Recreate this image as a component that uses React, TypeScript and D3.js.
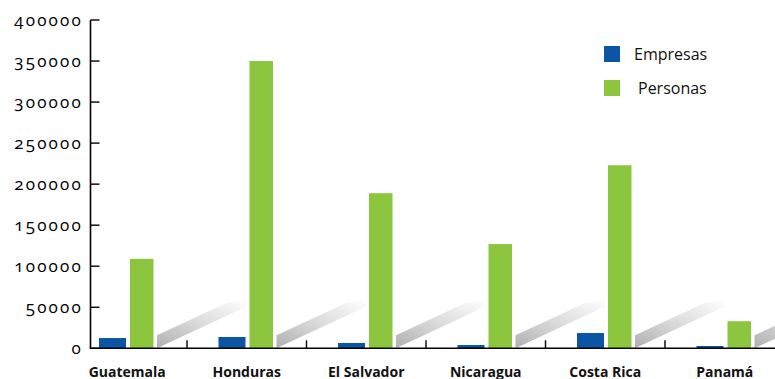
import React from "react";
import * as d3 from "d3";

const categories = ["Guatemala", "Honduras", "El Salvador", "Nicaragua", "Costa Rica", "Panamá"];
const empresas = [12500, 13800, 6500, 4000, 18600, 2800];
const personas = [109000, 350000, 189000, 127000, 223000, 33000];
const seriesNames = ["Empresas", "Personas"];
const yTicks = [0, 50000, 100000, 150000, 200000, 250000, 300000, 350000, 400000];

const W = 775;
const H = 379;
const BLUE = "#0b55a4";
const GREEN = "#8cc63f";

export default function App() {
  const y = d3.scaleLinear().domain([0, 400000]).range([348.3, 20]);
  const x = d3.scaleBand<string>().domain(categories).range([67.5, 67.5 + 6 * 119.5]);
  const bw = x.bandwidth();
  const axisX = 90.5;
  const base = y(0);
  const numFont = {
    fontFamily: "'Open Sans', sans-serif",
    fontSize: 17,
    fontWeight: 500,
    fontVariantNumeric: "oldstyle-nums",
    letterSpacing: "2.2px",
  } as React.CSSProperties;

  return (
    <svg
      width={W}
      height={H}
      style={{ position: "fixed", left: 0, top: 0, background: "#fff" }}
    >
      <defs>
        <linearGradient id="shadowGrad" x1="0" y1="1" x2="1" y2="0">
          <stop offset="0" stopColor="#b0b0b0" />
          <stop offset="0.5" stopColor="#dadada" />
          <stop offset="1" stopColor="#fdfdfd" />
        </linearGradient>
      </defs>

      {/* decorative shadows */}
      {categories.map((c) => {
        const x0 = (x(c) as number) + 89.5;
        const pts = [
          [x0, base],
          [x0, base - 13],
          [x0 + 71, base - 46],
          [x0 + 90, base - 46],
          [x0 + 90, base - 42],
        ];
        return (
          <polygon
            key={"s" + c}
            points={pts.map((p) => p.join(",")).join(" ")}
            fill="url(#shadowGrad)"
          />
        );
      })}

      {/* bars */}
      {categories.map((c, i) => {
        const b0 = x(c) as number;
        return (
          <g key={"b" + c}>
            <rect x={b0 + 31.5} width={27} y={y(empresas[i])} height={base - y(empresas[i])} fill={BLUE} />
            <rect x={b0 + 62.5} width={23.5} y={y(personas[i])} height={base - y(personas[i])} fill={GREEN} />
          </g>
        );
      })}

      {/* y axis */}
      <line x1={axisX} x2={axisX} y1={y(400000)} y2={base} stroke="#000" strokeWidth={1.6} />
      {yTicks.map((t) => (
        <g key={"t" + t}>
          <line x1={axisX} x2={axisX + 9} y1={y(t)} y2={y(t)} stroke="#000" strokeWidth={1.4} />
          <text x={83} y={y(t) + 5.5} textAnchor="end" fill="#000" style={numFont}>
            {t}
          </text>
        </g>
      ))}

      {/* x axis */}
      <line x1={axisX - 0.8} x2={W} y1={base} y2={base} stroke="#000" strokeWidth={1.6} />
      {categories.slice(1).map((c) => (
        <line
          key={"xt" + c}
          x1={x(c) as number}
          x2={x(c) as number}
          y1={base}
          y2={base - 8}
          stroke="#000"
          strokeWidth={1.4}
        />
      ))}
      {categories.map((c) => (
        <text
          key={"l" + c}
          x={(x(c) as number) + bw / 2}
          y={376.5}
          textAnchor="middle"
          fill="#111"
          style={{ fontFamily: "'Open Sans', sans-serif", fontSize: 14, fontWeight: 700 }}
        >
          {c}
        </text>
      ))}

      {/* legend */}
      {seriesNames.map((s, i) => (
        <g key={"lg" + s}>
          <rect x={604} y={46 + i * 34} width={16} height={16} fill={i === 0 ? BLUE : GREEN} />
          <text
            x={i === 0 ? 634 : 638}
            y={59.5 + i * 34}
            fill="#111"
            style={{ fontFamily: "'Open Sans', sans-serif", fontSize: 16 }}
          >
            {s}
          </text>
        </g>
      ))}
    </svg>
  );
}
